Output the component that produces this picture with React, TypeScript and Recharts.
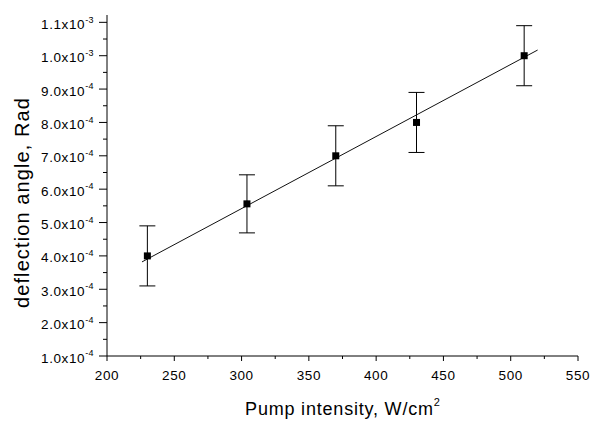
import { ScatterChart, Scatter, XAxis, YAxis, ErrorBar } from "recharts";

// measured points
const pumpIntensity = [230, 304, 370, 430, 510];
const deflection = [4.0e-4, 5.56e-4, 7.0e-4, 8.0e-4, 1.0e-3];
const deflectionErr = [0.9e-4, 0.87e-4, 0.9e-4, 0.9e-4, 0.9e-4];

// linear fit, end points
const fitX = [226, 520];
const fitY = [3.82e-4, 1.017e-3];

// ticks
const xMajor = [200, 250, 300, 350, 400, 450, 500, 550];
const xMinor = [225, 275, 325, 375, 425, 475, 525];
const yMajor = [1.0e-4, 2.0e-4, 3.0e-4, 4.0e-4, 5.0e-4, 6.0e-4, 7.0e-4, 8.0e-4, 9.0e-4, 1.0e-3, 1.1e-3];
const yMinor = [1.5e-4, 2.5e-4, 3.5e-4, 4.5e-4, 5.5e-4, 6.5e-4, 7.5e-4, 8.5e-4, 9.5e-4, 1.05e-3];

const points = pumpIntensity.map((x, i) => ({ x, y: deflection[i], err: deflectionErr[i] }));
const fitLine = fitX.map((x, i) => ({ x, y: fitY[i] }));

const FONT = "'Liberation Sans', Arial, sans-serif";

const isMajor = (list: number[], v: number) => list.some((m) => Math.abs(m - v) < Math.abs(m) * 1e-6 + 1e-12);

function XTick(props: any) {
  const { x, y, payload } = props;
  const major = isMajor(xMajor, payload.value);
  return (
    <g>
      <line x1={x} x2={x} y1={y} y2={y + (major ? 5 : 3)} stroke="#000" strokeWidth={1} />
      {major && (
        <text x={x} y={y + 24} textAnchor="middle" fontFamily={FONT} fontSize={13.5} letterSpacing={0.6} fill="#000">
          {payload.value}
        </text>
      )}
    </g>
  );
}

function YTick(props: any) {
  const { x, y, payload } = props;
  const major = isMajor(yMajor, payload.value);
  const [mant, exp] = Number(payload.value).toExponential(1).split("e");
  return (
    <g>
      <line x1={x - (major ? 8 : 4)} x2={x} y1={y} y2={y} stroke="#000" strokeWidth={1} />
      {major && (
        <text x={x - 13} y={y + 6.5} textAnchor="end" fontFamily={FONT} fill="#000">
          <tspan fontSize={13.5} letterSpacing={0.6}>{mant + "x10"}</tspan>
          <tspan fontSize={9} dy={-6.3} letterSpacing={0.4}>{exp}</tspan>
        </text>
      )}
    </g>
  );
}

const Square = (props: any) => (
  <rect x={props.cx - 3.5} y={props.cy - 3.5} width={7} height={7} fill="#000" />
);

export default function App() {
  return (
    <div style={{ position: "absolute", left: 0, top: 0, width: 601, height: 423, background: "#fff" }}>
      <ScatterChart width={601} height={423} margin={{ top: 15, right: 23, bottom: 0, left: 0 }}>
        <XAxis
          type="number"
          dataKey="x"
          domain={[200, 550]}
          ticks={[...xMajor, ...xMinor].sort((a, b) => a - b)}
          interval={0}
          allowDataOverflow
          height={67}
          tickSize={0}
          tickMargin={0}
          tickLine={false}
          tick={<XTick />}
          axisLine={{ stroke: "#000", strokeWidth: 1 }}
          label={{
            content: () => (
              <text x={342.5} y={415} textAnchor="middle" fontFamily={FONT} fill="#000">
                <tspan fontSize={18} letterSpacing={0.8}>Pump intensity, W/cm</tspan>
                <tspan fontSize={11} dy={-9}>2</tspan>
              </text>
            ),
          }}
        />
        <YAxis
          type="number"
          dataKey="y"
          domain={[1e-4, 1.122e-3]}
          ticks={[...yMajor, ...yMinor].sort((a, b) => a - b)}
          interval={0}
          allowDataOverflow
          width={107}
          tickSize={0}
          tickMargin={0}
          tickLine={false}
          tick={<YTick />}
          axisLine={{ stroke: "#000", strokeWidth: 1 }}
          label={{
            content: () => (
              <text
                transform="translate(29,202.5) rotate(-90)"
                textAnchor="middle"
                fontFamily={FONT}
                fontSize={20}
                letterSpacing={1.1}
                fill="#000"
              >
                deflection angle, Rad
              </text>
            ),
          }}
        />
        <Scatter
          data={fitLine}
          line={{ stroke: "#111", strokeWidth: 1 }}
          shape={() => <g />}
          isAnimationActive={false}
        />
        <Scatter data={points} shape={<Square />} fill="#000" isAnimationActive={false}>
          <ErrorBar dataKey="err" direction="y" width={8} stroke="#000" strokeWidth={1} isAnimationActive={false} />
        </Scatter>
      </ScatterChart>
    </div>
  );
}
